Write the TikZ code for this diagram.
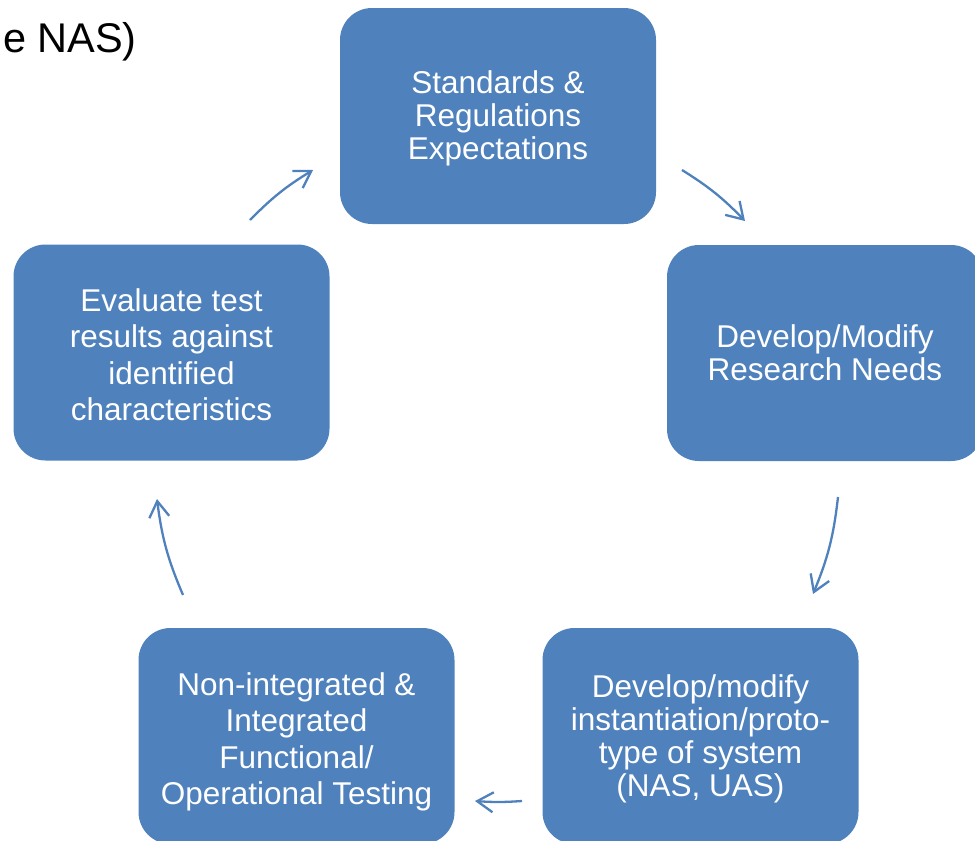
\documentclass[tikz,border=0pt]{standalone}
\usepackage{fontspec}
\setmainfont{Liberation Sans}
\usetikzlibrary{arrows.meta,positioning}
\definecolor{stageblue}{HTML}{4F81BD}
\newcommand{\lowerby}[1]{\rule{0pt}{#1}}

\begin{document}
\begin{tikzpicture}[x=1pt,y=-1pt,
        stage/.style={fill=stageblue, rounded corners=32pt, minimum width=316pt,
                minimum height=216pt, inner sep=0pt, text=white, align=center,
                font=\fontsize{31.5}{33}\selectfont},
        loose/.style={font=\fontsize{31.5}{36.5}\selectfont},
        flow/.style={draw=stageblue, line width=2.3pt,
                -{Straight Barb[length=16pt, width=20pt, line width=2.3pt]}}]
        \useasboundingbox (0,0) rectangle (975,841);

        \node[anchor=base east, inner sep=0pt, font=\fontsize{41.5}{48}\selectfont]
                (heading) at (137,52) {e NAS)};

        \node[stage] (standards) at (498,116) {\lowerby{27.5pt}Standards \&\\Regulations\\Expectations};
        \node[stage] (research) at (825,353) {Develop/Modify\\Research Needs};
        \node[stage] (prototype) at (700.5,736) {\lowerby{29pt}Develop/modify\\instantiation/proto-\\type of system\\(NAS, UAS)};
        \node[stage, loose] (testing) at (296.5,736) {\lowerby{35pt}Non-integrated \&\\Integrated\\Functional/\\Operational Testing};
        \node[stage, loose] (evaluate) at (171.5,352.5) {\lowerby{27pt}Evaluate test\\results against\\identified\\characteristics};

        % arrow ends on the cycle
        \coordinate (eval out) at (250,220);
        \coordinate (std in) at (313,170);
        \coordinate (std out) at (682,170);
        \coordinate (res in) at (745,221);
        \coordinate (res out) at (838,497);
        \coordinate (proto in) at (813,594);
        \coordinate (proto out) at (522,801);
        \coordinate (test in) at (475,801);
        \coordinate (test out) at (183,595);
        \coordinate (eval in) at (157,499);

        \draw[flow] (eval out) to[bend left=7] (std in);
        \draw[flow] (std out) to[bend left=7] (res in);
        \draw[flow] (res out) to[bend left=8] (proto in);
        \draw[flow] (proto out) to[bend left=4] (test in);
        \draw[flow] (test out) to[bend left=8] (eval in);
\end{tikzpicture}
\end{document}
